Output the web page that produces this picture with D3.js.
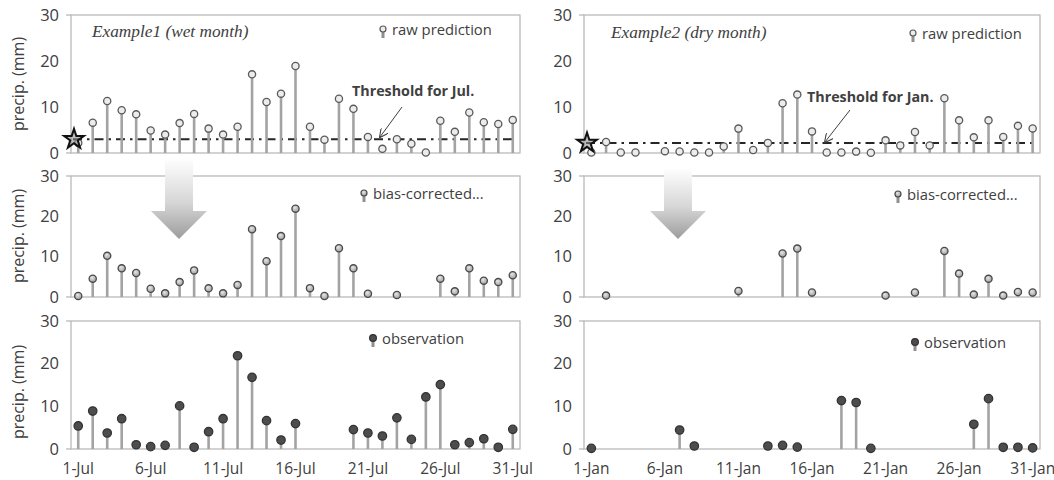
<!DOCTYPE html>
<html>
<head>
<meta charset="utf-8">
<script src="https://cdn.jsdelivr.net/npm/d3@7"></script>
<style>
  body { margin: 0; background: #fff; }
  svg { display: block; }
  text { font-family: "Open Sans", sans-serif; fill: #404040; }
</style>
</head>
<body>
<svg width="1054" height="480"></svg>
<script>
// days of the month (categories)
const days = d3.range(1, 32);
const tickDays = [1, 6, 11, 16, 21, 26, 31];
const julTicks = ["1-Jul", "6-Jul", "11-Jul", "16-Jul", "21-Jul", "26-Jul", "31-Jul"];
const janTicks = ["1-Jan", "6-Jan", "11-Jan", "16-Jan", "21-Jan", "26-Jan", "31-Jan"];
const yTicks = [0, 10, 20, 30];

// Example1 - July (wet month), mm/day, null = no value drawn
const julRaw  = [2.2, 6.6, 11.3, 9.3, 8.4, 4.9, 4.0, 6.5, 8.5, 5.3, 4.0, 5.7, 17.1, 11.1, 12.9, 18.9,
                 5.7, 2.9, 11.8, 9.6, 3.5, 0.9, 3.0, 2.0, 0.1, 7.0, 4.6, 8.8, 6.7, 6.3, 7.2];
const julBias = [0.25, 4.55, 10.2, 7.1, 5.95, 2.05, 0.9, 3.7, 6.6, 2.15, 0.9, 3.0, 16.8, 8.85, 15.1, 21.9,
                 2.2, 0.25, 12.1, 7.1, 0.8, null, 0.5, null, null, 4.55, 1.4, 7.1, 4.05, 3.7, 5.4];
const julObs  = [5.4, 8.9, 3.75, 7.1, 1.0, 0.55, 0.85, 10.1, 0.4, 4.05, 7.1, 21.85, 16.8, 6.65, 2.1, 5.95,
                 null, null, null, 4.55, 3.75, 3.05, 7.3, 2.25, 12.2, 15.1, 1.0, 1.5, 2.4, 0.4, 4.6];
const julThreshold = 3.0;

// Example2 - January (dry month)
const janRaw  = [0.1, 2.4, 0.1, 0.1, null, 0.4, 0.35, 0.1, 0.1, 1.4, 5.3, 0.65, 2.2, 10.8, 12.7, 4.7,
                 0.1, 0.1, 0.3, 0.05, 2.75, 1.65, 4.55, 1.65, 11.9, 7.1, 3.4, 7.1, 3.5, 5.9, 5.35];
const janBias = [null, 0.35, null, null, null, null, null, null, null, null, 1.5, null, null, 10.8, 12.0, 1.1,
                 null, null, null, null, 0.35, null, 1.1, null, 11.4, 5.8, 0.6, 4.5, 0.35, 1.25, 1.1];
const janObs  = [0.15, null, null, null, null, null, 4.45, 0.7, null, null, null, null, 0.7, 0.85, 0.45, null,
                 null, 11.35, 10.9, 0.15, null, null, null, null, null, null, 5.8, 11.8, 0.4, 0.4, 0.25];
const janThreshold = 2.2;

const seriesNames = ["raw prediction", "bias-corrected...", "observation"];

const svg = d3.select('svg');
const defs = svg.append('defs');

// fills for the markers and the big arrows
let g1 = defs.append('radialGradient').attr('id', 'biasFill').attr('cx', '40%').attr('cy', '35%').attr('r', '70%');
g1.append('stop').attr('offset', '0%').attr('stop-color', '#e6e6e6');
g1.append('stop').attr('offset', '100%').attr('stop-color', '#9a9a9a');

let g2 = defs.append('linearGradient').attr('id', 'arrowFill').attr('x1', 0).attr('y1', 0).attr('x2', 0).attr('y2', 1);
g2.append('stop').attr('offset', '0%').attr('stop-color', '#ffffff');
g2.append('stop').attr('offset', '55%').attr('stop-color', '#d6d6d6');
g2.append('stop').attr('offset', '100%').attr('stop-color', '#9c9c9c');

defs.append('marker')
  .attr('id', 'head')
  .attr('viewBox', '0 0 10 10')
  .attr('refX', 9).attr('refY', 5)
  .attr('markerWidth', 9).attr('markerHeight', 9)
  .attr('markerUnits', 'userSpaceOnUse')
  .attr('orient', 'auto')
  .append('path')
    .attr('d', 'M0,0 L10,5 L0,10')
    .attr('fill', 'none')
    .attr('stroke', '#404040')
    .attr('stroke-width', 1.2);

const markerStyle = [
  { fill: '#ececec', stroke: '#5a5a5a', r: 3.6 },
  { fill: 'url(#biasFill)', stroke: '#4a4a4a', r: 3.6 },
  { fill: '#4d4d4d', stroke: '#333', r: 4.2 }
];

const columns = [
  { x0: 71, x1: 520, ticks: julTicks, thr: julThreshold, series: [julRaw, julBias, julObs],
    title: 'Example1 (wet month)', titlePos: [92, 37],
    thrLabel: 'Threshold for Jul.', thrPos: [352, 96], thrArrow: [[402, 107], [380, 137]],
    bigArrow: { x: 179, top: 158 } },
  { x0: 584, x1: 1040, ticks: janTicks, thr: janThreshold, series: [janRaw, janBias, janObs],
    title: 'Example2 (dry month)', titlePos: [611, 38],
    thrLabel: 'Threshold for Jan.', thrPos: [807, 102], thrArrow: [[850, 110], [825, 142]],
    bigArrow: { x: 678, top: 168 } }
];

const rows = [
  { top: 15, bottom: 153, label: 84 },
  { top: 176, bottom: 297, label: 236 },
  { top: 321, bottom: 449, label: 392 }
];

const legendPos = [
  [[383, 29], [913, 33]],
  [[364, 193], [898, 194]],
  [[373, 338], [915, 342]]
];

columns.forEach((col, ci) => {
  let xScale = d3.scaleBand()
                 .domain(days)
                 .range([col.x0, col.x1]);
  const cx = d => xScale(d) + xScale.bandwidth() / 2;

  rows.forEach((row, ri) => {
    let yScale = d3.scaleLinear()
                   .domain([0, 30])
                   .range([row.bottom, row.top]);

    let g = svg.append('g');

    // frame
    g.append('rect')
      .attr('x', col.x0).attr('y', row.top)
      .attr('width', col.x1 - col.x0).attr('height', row.bottom - row.top)
      .attr('fill', 'none').attr('stroke', '#b4b4b4').attr('stroke-width', 1.2);
    [row.top, row.bottom].forEach(yy => {
      g.append('line')
        .attr('x1', col.x0 - 5).attr('x2', col.x0)
        .attr('y1', yy).attr('y2', yy)
        .attr('stroke', '#b4b4b4').attr('stroke-width', 1.2);
    });

    // Y - Axis
    let yAxis = g.append('g')
      .attr('transform', 'translate(' + col.x0 + ',0)')
      .call(d3.axisLeft(yScale).tickValues(yTicks).tickSize(0).tickPadding(12));
    yAxis.select('.domain').remove();
    yAxis.selectAll('text').style('font-size', '16.5px').attr('fill', '#404040');

    if (ci === 0) {
      g.append('text')
        .text('precip. (mm)')
        .style('text-anchor', 'middle')
        .style('font-size', '16px')
        .attr('x', -row.label)
        .attr('y', 24)
        .attr('transform', 'rotate(-90)');
    }

    // X - Axis labels on the bottom row only
    if (ri === 2) {
      let xAxis = g.append('g')
        .attr('transform', 'translate(0,' + row.bottom + ')')
        .call(d3.axisBottom(xScale).tickValues(tickDays).tickSize(0).tickPadding(14)
                .tickFormat((d, i) => col.ticks[i]));
      xAxis.select('.domain').remove();
      xAxis.selectAll('text').style('font-size', '15.5px').attr('fill', '#404040');
    }

    // threshold line on the raw prediction panel
    if (ri === 0) {
      g.append('line')
        .attr('x1', col.x0 + 2).attr('x2', col.x1 - 6)
        .attr('y1', yScale(col.thr)).attr('y2', yScale(col.thr))
        .attr('stroke', '#262626').attr('stroke-width', 2)
        .attr('stroke-dasharray', '9,5,2.5,5');
    }

    let pts = days.map((d, i) => ({ day: d, v: col.series[ri][i] })).filter(p => p.v !== null);

    g.selectAll('line.stem')
      .data(pts)
      .enter()
      .append('line')
        .classed('stem', true)
        .attr('x1', d => cx(d.day)).attr('x2', d => cx(d.day))
        .attr('y1', yScale(0)).attr('y2', d => yScale(d.v))
        .attr('stroke', '#a3a3a3').attr('stroke-width', 2.6);

    let ms = markerStyle[ri];
    g.selectAll('circle.pt')
      .data(pts)
      .enter()
      .append('circle')
        .classed('pt', true)
        .attr('cx', d => cx(d.day))
        .attr('cy', d => yScale(d.v))
        .attr('r', ms.r)
        .attr('fill', ms.fill)
        .attr('stroke', ms.stroke)
        .attr('stroke-width', 1.3);

    // star marking the threshold on the axis
    if (ri === 0) {
      g.append('path')
        .attr('d', d3.symbol(d3.symbolStar).size(120)())
        .attr('transform', 'translate(' + (col.x0 + 3) + ',' + yScale(col.thr) + ')')
        .attr('fill', '#8a8a8a').attr('fill-opacity', 0.55)
        .attr('stroke', '#111').attr('stroke-width', 2);
    }

    // legend
    let [lx, ly] = legendPos[ri][ci];
    g.append('line')
      .attr('x1', lx).attr('x2', lx).attr('y1', ly).attr('y2', ly + 9)
      .attr('stroke', '#8f8f8f').attr('stroke-width', 3);
    g.append('circle')
      .attr('cx', lx).attr('cy', ly).attr('r', ri === 2 ? 3.4 : 3)
      .attr('fill', ms.fill).attr('stroke', ms.stroke).attr('stroke-width', 1.2);
    g.append('text')
      .text(seriesNames[ri])
      .attr('x', lx + 9).attr('y', ly + 5.5)
      .style('font-size', '14.8px');
  });

  // title and threshold annotation
  svg.append('text')
    .text(col.title)
    .attr('x', col.titlePos[0]).attr('y', col.titlePos[1])
    .style('font-family', '"Liberation Serif", serif')
    .style('font-style', 'italic')
    .style('font-size', '17.3px');

  svg.append('text')
    .text(col.thrLabel)
    .attr('x', col.thrPos[0]).attr('y', col.thrPos[1])
    .style('font-weight', 'bold')
    .style('font-size', '14.3px');

  svg.append('line')
    .attr('x1', col.thrArrow[0][0]).attr('y1', col.thrArrow[0][1])
    .attr('x2', col.thrArrow[1][0]).attr('y2', col.thrArrow[1][1])
    .attr('stroke', '#404040').attr('stroke-width', 1)
    .attr('marker-end', 'url(#head)');

  // big gray arrow between raw and bias-corrected
  let a = col.bigArrow;
  let arrowPts = [
    [a.x - 14, a.top], [a.x + 14, a.top], [a.x + 14, 211], [a.x + 28, 211],
    [a.x, 239], [a.x - 28, 211], [a.x - 14, 211]
  ];
  svg.append('path')
    .attr('d', d3.line()(arrowPts) + 'Z')
    .attr('fill', 'url(#arrowFill)');
});
</script>
</body>
</html>
